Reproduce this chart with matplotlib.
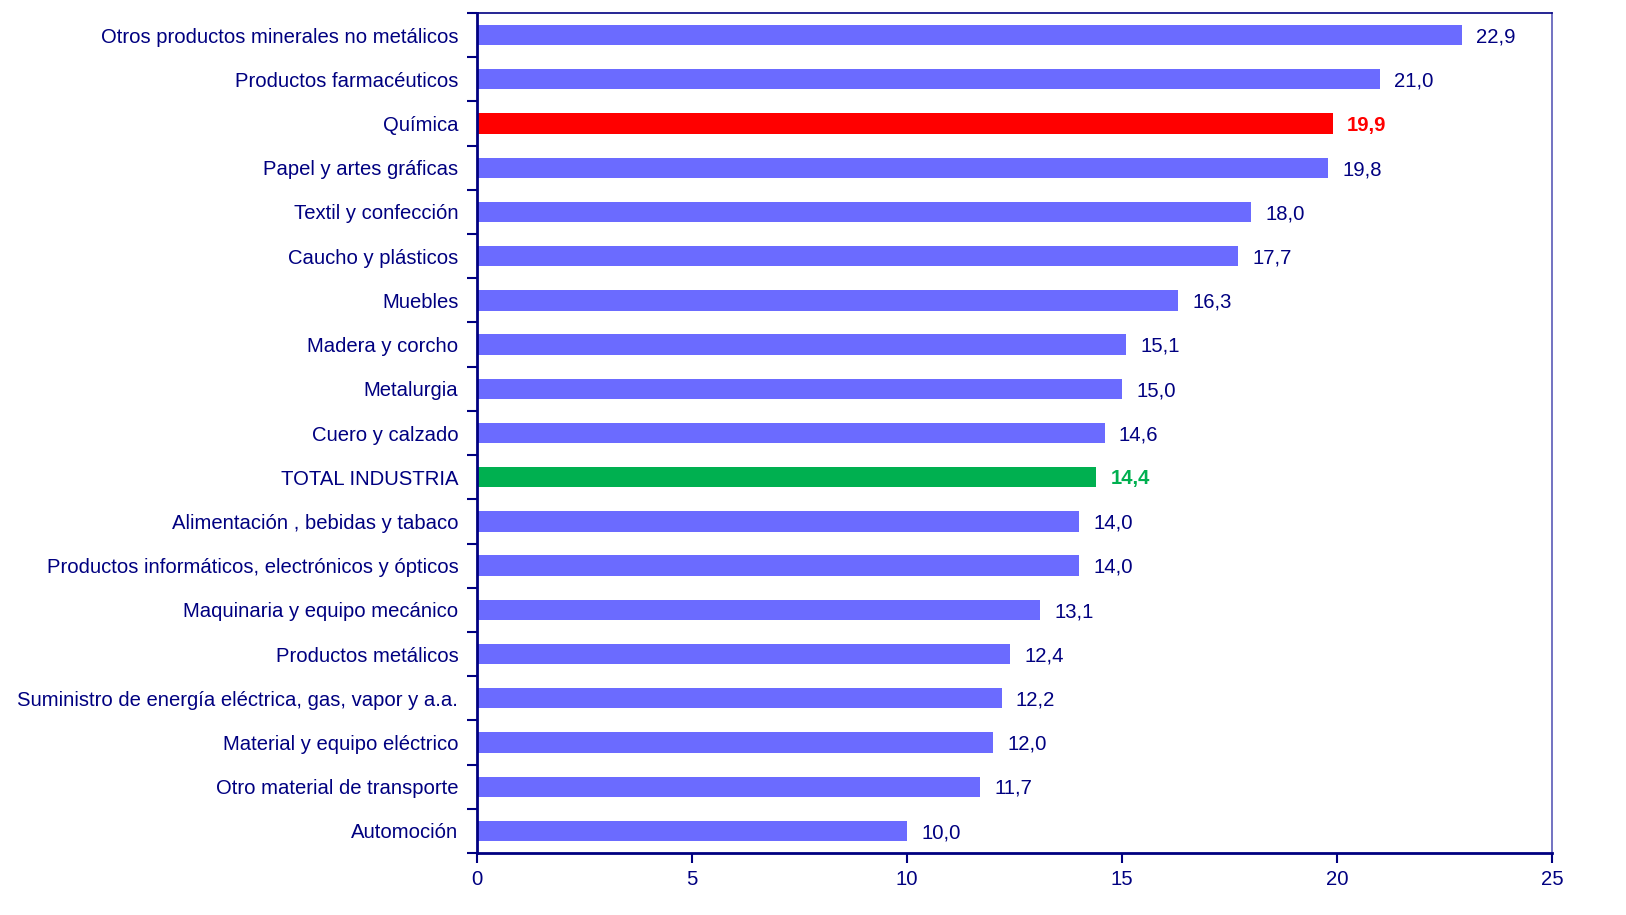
import matplotlib
matplotlib.use("Agg")
import matplotlib.pyplot as plt
from matplotlib.ticker import FixedLocator, NullFormatter

plt.rcParams["font.family"] = ["Liberation Sans", "DejaVu Sans"]

NAVY = "#000080"

categories = [
    "Otros productos minerales no metálicos",
    "Productos farmacéuticos",
    "Química",
    "Papel y artes gráficas",
    "Textil y confección",
    "Caucho y plásticos",
    "Muebles",
    "Madera y corcho",
    "Metalurgia",
    "Cuero y calzado",
    "TOTAL INDUSTRIA",
    "Alimentación , bebidas y tabaco",
    "Productos informáticos, electrónicos y ópticos",
    "Maquinaria y equipo mecánico",
    "Productos metálicos",
    "Suministro de energía eléctrica, gas, vapor y a.a.",
    "Material y equipo eléctrico",
    "Otro material de transporte",
    "Automoción",
]
values = [22.9, 21.0, 19.9, 19.8, 18.0, 17.7, 16.3, 15.1, 15.0, 14.6,
          14.4, 14.0, 14.0, 13.1, 12.4, 12.2, 12.0, 11.7, 10.0]
highlight = {"Química": "#FF0000", "TOTAL INDUSTRIA": "#00B050"}
xticks = [0, 5, 10, 15, 20, 25]

fig = plt.figure(figsize=(16.26, 9.15), dpi=100)
ax = fig.add_axes([477 / 1626, 1 - 853 / 915, (1552 - 477) / 1626, (853 - 13) / 915])

pos = list(range(len(categories)))
colors = [highlight.get(c, "#6B6BFF") for c in categories]
ax.barh(pos, values, height=0.46, color=colors, edgecolor="none")

# value labels just right of each bar, a touch below centre like Excel
for p, v, c in zip(pos, values, categories):
    bold = c in highlight
    ax.text(v + 0.33, p + 0.04, f"{v:.1f}".replace(".", ","), va="center", ha="left",
            fontsize=14.6, color=highlight.get(c, NAVY),
            fontweight="bold" if bold else "normal")

ax.set_ylim(len(categories) - 0.5, -0.5)
ax.set_xlim(0, 25)

ax.set_yticks(pos)
ax.set_yticklabels(categories, fontsize=14.6, color=NAVY)
ax.tick_params(axis="y", which="major", length=0, pad=13.5)
ax.yaxis.set_minor_locator(FixedLocator([p - 0.5 for p in pos] + [len(pos) - 0.5]))
ax.yaxis.set_minor_formatter(NullFormatter())
ax.tick_params(axis="y", which="minor", length=7, width=1.5, color=NAVY, direction="out")

ax.set_xticks(xticks)
ax.set_xticklabels([str(t) for t in xticks], fontsize=14.6, color=NAVY)
ax.tick_params(axis="x", length=7, width=1.5, color=NAVY, direction="out", pad=5)

for s in ["left", "bottom"]:
    ax.spines[s].set_color(NAVY)
    ax.spines[s].set_linewidth(2)
ax.spines["top"].set_color(NAVY)
ax.spines["top"].set_linewidth(1.2)
ax.spines["right"].set_color("#5a5ab8")
ax.spines["right"].set_linewidth(1.2)

fig.savefig("out.png", dpi=100)
